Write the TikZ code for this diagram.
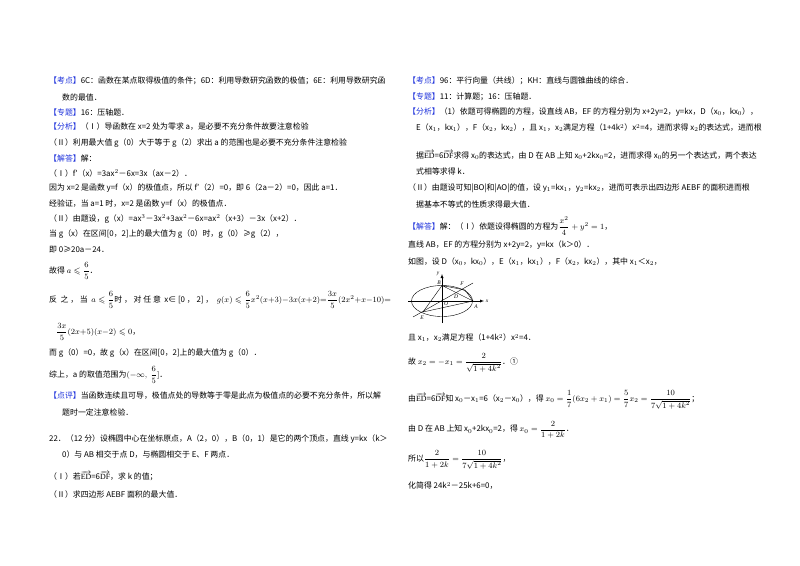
\documentclass[tikz,border=0pt]{standalone}
\usepackage{fontspec}
\usepackage{amsmath,amssymb}
\setmainfont{Liberation Serif}
\newfontfamily\cjk{Noto Sans CJK SC}
\definecolor{tagblue}{RGB}{30,50,220}
\newcommand{\tg}[1]{{\color{tagblue}【#1】}}
\newcommand{\ov}[1]{\overrightarrow{\mathrm{#1}}}
\begin{document}
\begin{tikzpicture}[x=1pt,y=-1pt,
  t/.style={anchor=west,inner sep=0,font=\cjk\fontsize{7.9}{9}\selectfont},
  ln/.style={line width=0.4pt}]
\useasboundingbox[fill=white] (0,0) rectangle (800,565);
% left column
\node[t] (l1) at (49,81) {\tg{考点}6C：函数在某点取得极值的条件；6D：利用导数研究函数的极值；6E：利用导数研究函};
\node[t] (l2) at (62,97) {数的最值．};
\node[t] (l3) at (49,112) {\tg{专题}16：压轴题．};
\node[t] (l4) at (49,127) {\tg{分析}（Ⅰ）导函数在 x=2 处为零求 a，是必要不充分条件故要注意检验};
\node[t] (l5) at (49,143) {（Ⅱ）利用最大值 g（0）大于等于 g（2）求出 a 的范围也是必要不充分条件注意检验};
\node[t] (l6) at (49,158) {\tg{解答}解：};
\node[t] (l7) at (49,173) {（Ⅰ）f′（x）=3ax$^2$－6x=3x（ax－2）．};
\node[t] (l8) at (49,188) {因为 x=2 是函数 y=f（x）的极值点，所以 f′（2）=0，即 6（2a－2）=0，因此 a=1．};
\node[t] (l9) at (49,204) {经验证，当 a=1 时，x=2 是函数 y=f（x）的极值点．};
\node[t] (l10) at (49,219) {（Ⅱ）由题设，g（x）=ax$^3$－3x$^2$+3ax$^2$－6x=ax$^2$（x+3）－3x（x+2）．};
\node[t] (l11) at (49,234) {当 g（x）在区间[0，2]上的最大值为 g（0）时，g（0）≥g（2），};
\node[t] (l12) at (49,250) {即 0≥20a－24．};
\node[t] (l13) at (49,271) {故得 $a\leqslant\dfrac{6}{5}$．};
\node[t] (l14) at (49,300) {反\ \ 之\ ，\ 当\ \ $a\leqslant\dfrac{6}{5}$时\ ，\ 对\ 任\ 意\ \ x∈\ [0\ ，\ 2]\ ，\ \ $g(x)\leqslant\dfrac{6}{5}x^2(x{+}3){-}3x(x{+}2){=}\dfrac{3x}{5}(2x^2{+}x{-}10){=}$};
\node[t] (l15) at (56,332) {$\dfrac{3x}{5}(2x{+}5)(x{-}2)\leqslant0$，};
\node[t] (l16) at (49,353) {而 g（0）=0，故 g（x）在区间[0，2]上的最大值为 g（0）．};
\node[t] (l17) at (49,375) {综上，a 的取值范围为$(-\infty,\ \dfrac{6}{5}]$．};
\node[t] (l18) at (49,396) {\tg{点评}当函数连续且可导，极值点处的导数等于零是此点为极值点的必要不充分条件，所以解};
\node[t] (l19) at (62,412) {题时一定注意检验．};
\node[t] (l20) at (49,439) {22．（12 分）设椭圆中心在坐标原点，A（2，0），B（0，1）是它的两个顶点，直线 y=kx（k＞};
\node[t] (l21) at (62,455) {0）与 AB 相交于点 D，与椭圆相交于 E、F 两点．};
\node[t] (l22) at (49,476) {（Ⅰ）若$\ov{ED}$=6$\ov{DF}$，求 k 的值；};
\node[t] (l23) at (49,494) {（Ⅱ）求四边形 AEBF 面积的最大值．};
% right column
\node[t] (r1) at (408,81) {\tg{考点}96：平行向量（共线）；KH：直线与圆锥曲线的综合．};
\node[t] (r2) at (408,97) {\tg{专题}11：计算题；16：压轴题．};
\node[t] (r3) at (408,112) {\tg{分析}（1）依题可得椭圆的方程，设直线 AB，EF 的方程分别为 x+2y=2，y=kx，D（x$_0$，kx$_0$），};
\node[t] (r4) at (416,128) {E（x$_1$，kx$_1$），F（x$_2$，kx$_2$），且 x$_1$，x$_2$满足方程（1+4k$^2$）x$^2$=4，进而求得 x$_2$的表达式，进而根};
\node[t] (r5) at (416,155) {据$\ov{ED}$=6$\ov{DF}$求得 x$_0$的表达式，由 D 在 AB 上知 x$_0$+2kx$_0$=2，进而求得 x$_0$的另一个表达式，两个表达};
\node[t] (r6) at (416,171) {式相等求得 k．};
\node[t] (r7) at (408,188) {（Ⅱ）由题设可知|BO|和|AO|的值，设 y$_1$=kx$_1$，y$_2$=kx$_2$，进而可表示出四边形 AEBF 的面积进而根};
\node[t] (r8) at (416,204) {据基本不等式的性质求得最大值．};
\node[t] (r9) at (408,226) {\tg{解答}解：（Ⅰ）依题设得椭圆的方程为$\dfrac{x^2}{4}+y^2=1$，};
\node[t] (r10) at (408,245) {直线 AB，EF 的方程分别为 x+2y=2，y=kx（k＞0）．};
\node[t] (r11) at (408,262) {如图，设 D（x$_0$，kx$_0$），E（x$_1$，kx$_1$），F（x$_2$，kx$_2$），其中 x$_1$＜x$_2$，};
\node[t] (r12) at (408,338) {且 x$_1$，x$_2$满足方程（1+4k$^2$）x$^2$=4．};
\node[t] (r13) at (408,363) {故 $x_2=-x_1=\dfrac{2}{\sqrt{1+4k^2}}$．①};
\node[t] (r14) at (408,400) {由$\ov{ED}$=6$\ov{DF}$知 x$_0$－x$_1$=6（x$_2$－x$_0$），得 $x_0=\dfrac{1}{7}(6x_2+x_1)=\dfrac{5}{7}x_2=\dfrac{10}{7\sqrt{1+4k^2}}$；};
\node[t] (r15) at (408,430) {由 D 在 AB 上知 x$_0$+2kx$_0$=2，得 $x_0=\dfrac{2}{1+2k}$．};
\node[t] (r16) at (408,460) {所以$\dfrac{2}{1+2k}=\dfrac{10}{7\sqrt{1+4k^2}}$，};
\node[t] (r17) at (408,486) {化简得 24k$^2$－25k+6=0，};
% figure
\coordinate (O) at (442,301);
\coordinate (A) at (473,301);
\coordinate (B) at (442,285.5);
\coordinate (E) at (423,312);
\coordinate (F) at (465,290);
\coordinate (D) at (458,294);
\draw[ln] (O) ellipse [x radius=30.5, y radius=15.5];
\draw[ln,-latex] (408,301) -- (484,301);
\draw[ln,-latex] (442,323) -- (442,274);
\draw[ln] (413,317) -- (473,283);
\draw[ln] (B) -- (E) -- (A) -- (B) -- (F) -- (A);
\node[font=\itshape\fontsize{5.5}{6}\selectfont,inner sep=0] (lx) at (487,301) {x};
\node[font=\itshape\fontsize{5.5}{6}\selectfont,inner sep=0] (ly) at (438,274) {y};
\node[font=\itshape\fontsize{5.5}{6}\selectfont,inner sep=0] (lB) at (439,283) {B};
\node[font=\itshape\fontsize{5.5}{6}\selectfont,inner sep=0] (lF) at (462,284) {F};
\node[font=\itshape\fontsize{5.5}{6}\selectfont,inner sep=0] (lD) at (456,297) {D};
\node[font=\itshape\fontsize{5.5}{6}\selectfont,inner sep=0] (lO) at (446,304) {O};
\node[font=\itshape\fontsize{5.5}{6}\selectfont,inner sep=0] (lA) at (476,307) {A};
\node[font=\itshape\fontsize{5.5}{6}\selectfont,inner sep=0] (lE) at (422,318) {E};
\end{tikzpicture}
\end{document}
